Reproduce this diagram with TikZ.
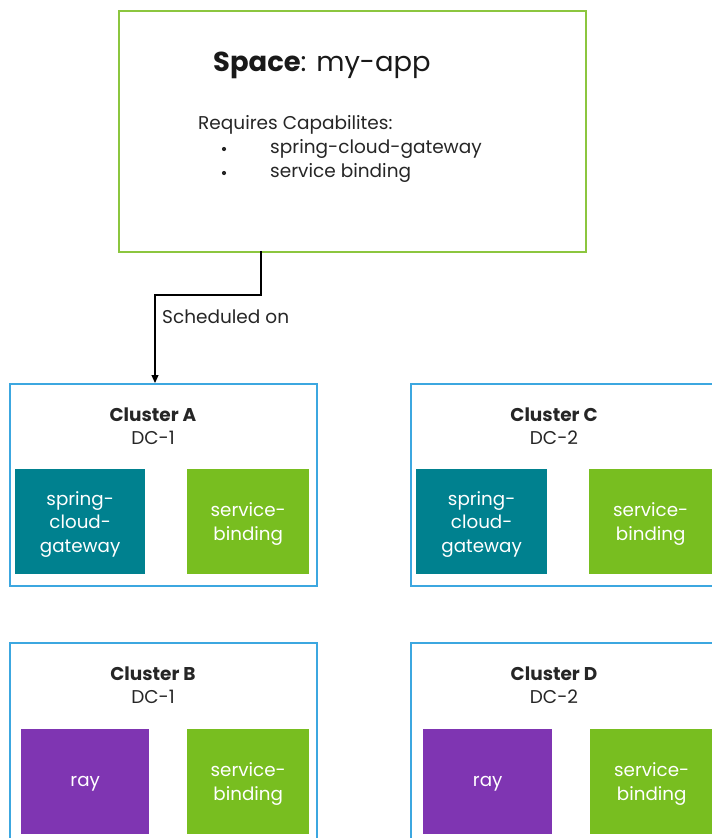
\documentclass[tikz,border=0pt]{standalone}
\usepackage{fontspec}
\setmainfont{Poppins}
\usetikzlibrary{arrows.meta}
\definecolor{spacegreen}{RGB}{140,198,63}
\definecolor{clblue}{RGB}{60,167,224}
\definecolor{tealc}{RGB}{0,129,143}
\definecolor{sgreen}{RGB}{120,190,32}
\definecolor{purp}{RGB}{127,53,178}
\tikzset{
  cluster/.style={draw=clblue, line width=1.5pt, anchor=north west, minimum width=307pt, minimum height=202pt, inner sep=0pt},
  capbox/.style={anchor=north west, inner sep=0pt, minimum height=105pt, text=white, font=\fontsize{18.3}{23.5}\selectfont, align=center, text depth=-3pt},
  ctitle/.style={align=center, font=\fontsize{18.5}{23}\selectfont, text=black!85},
  plain/.style={anchor=west, inner sep=0pt, font=\fontsize{18.5}{22}\selectfont, text=black!85},
  bull/.style={circle, fill=black!85, inner sep=0pt, minimum size=4.2pt},
}
\begin{document}
\begin{tikzpicture}[x=1pt,y=-1pt]
\useasboundingbox (0,0) rectangle (712,838);
\clip (0,0) rectangle (712,838);
\fill[white] (0,0) rectangle (712,838);
% space box
\node[draw=spacegreen, line width=1.5pt, anchor=north west, minimum width=467pt, minimum height=241pt, inner sep=0pt] (space) at (118,10) {};
\node[anchor=west, inner sep=0pt, font=\fontsize{27.4}{32}\selectfont, text=black!90] (title) at (213,65) {\textbf{Space}: my-app};
\node[plain] (req) at (198,125) {Requires Capabilites:};
\node[bull] (b1) at (224,149) {};
\node[bull] (b2) at (224,173) {};
\node[plain] (i1) at (270,149) {spring-cloud-gateway};
\node[plain] (i2) at (270,173) {service binding};
% clusters
\node[cluster] (ca) at (9,383) {};
\node[cluster] (cc) at (410,383) {};
\node[cluster] (cb) at (9,642) {};
\node[cluster] (cd) at (410,642) {};
\node[ctitle] (tA) at (153,426) {\textbf{Cluster A}\\DC-1};
\node[ctitle] (tC) at (554,426) {\textbf{Cluster C}\\DC-2};
\node[ctitle] (tB) at (153,685) {\textbf{Cluster B}\\DC-1};
\node[ctitle] (tD) at (554,685) {\textbf{Cluster D}\\DC-2};
% capabilities
\node[capbox, fill=tealc, minimum width=130pt] (a1) at (15,469) {spring-\\cloud-\\gateway};
\node[capbox, fill=sgreen, minimum width=122pt] (a2) at (187,469) {service-\\binding};
\node[capbox, fill=tealc, minimum width=131pt] (c1) at (416,469) {spring-\\cloud-\\gateway};
\node[capbox, fill=sgreen, minimum width=123pt] (c2) at (589,469) {service-\\binding};
\node[capbox, fill=purp, minimum width=128pt] (b1box) at (21,729) {ray};
\node[capbox, fill=sgreen, minimum width=122pt] (b2box) at (187,729) {service-\\binding};
\node[capbox, fill=purp, minimum width=129pt] (d1) at (423,729) {ray};
\node[capbox, fill=sgreen, minimum width=123pt] (d2) at (590,729) {service-\\binding};
% connector
\coordinate (s0) at (261,251);
\coordinate (bend) at (155,295);
\draw[line width=1.2pt, -{Triangle[length=8pt,width=7pt]}] (s0) |- (bend) -- (bend |- ca.north);
\node[plain] (sched) at (162,317) {Scheduled on};
\end{tikzpicture}
\end{document}
